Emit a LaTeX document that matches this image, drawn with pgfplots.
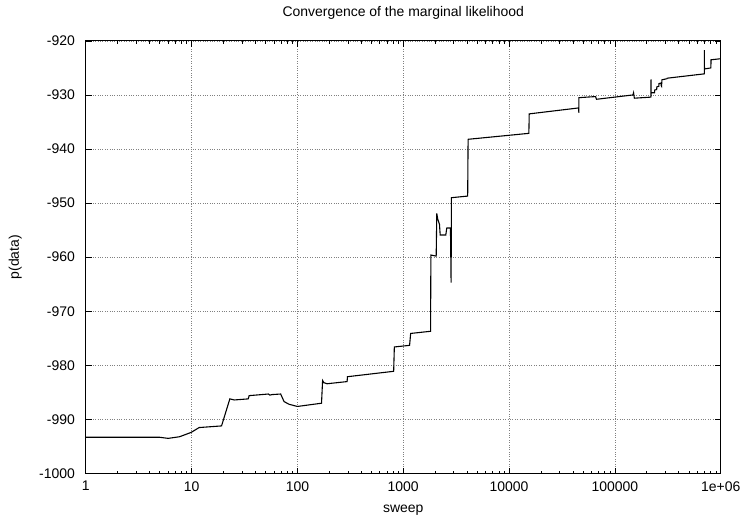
\documentclass[border=0pt]{standalone}
\usepackage{pgfplots}
\pgfplotsset{compat=1.18}
\usepackage{fontspec}
\setmainfont{Liberation Sans}
\begin{document}
\fontsize{14bp}{16bp}\selectfont
\begin{tikzpicture}
\begin{axis}[
  at={(0,0)}, anchor=south west,
  scale only axis, width=637bp, height=434bp,
  xmode=log, xmin=1, xmax=1e6,
  ymin=-1000, ymax=-920,
  xtick={1,10,100,1000,10000,100000,1000000},
  xticklabels={1,10,100,1000,10000,100000,1e+06},
  ytick={-1000,-990,-980,-970,-960,-950,-940,-930,-920},
  yticklabels={-1000,-990,-980,-970,-960,-950,-940,-930,-920},
  /pgf/number format/assume math mode=true,
  tick align=inside,
  major tick length=6bp, minor tick length=3bp,
  every tick/.style={black, line width=0.6bp},
  axis line style={line width=1.2bp},
  grid=major,
  major grid style={dotted, gray, line width=0.6bp},
  minor x tick num=0,
  xlabel={sweep}, ylabel={p(data)},
  title={Convergence of the marginal likelihood},
  title style={at={(0.5,1)}, anchor=south, yshift=11bp, font=\fontsize{14bp}{16bp}\selectfont},
  xticklabel style={yshift=-3bp},
  yticklabel style={xshift=-6bp},
  xlabel style={yshift=-4bp},
  ylabel style={yshift=8bp},
  tick label style={font=\fontsize{14bp}{16bp}\selectfont},
  label style={font=\fontsize{14bp}{16bp}\selectfont},
]
\addplot[black, line width=1.1bp, line join=miter] coordinates {
(1,-993.3) (5,-993.3) (6,-993.5) (7.7,-993.2) (9.9,-992.4) (11.8,-991.5)
(19.2,-991.2) (23,-986.2) (25.3,-986.4) (34.3,-986.2) (35,-985.6)
(53.2,-985.3) (54.8,-985.5) (58,-985.4) (69.5,-985.3) (74.8,-986.7)
(83.4,-987.2) (100,-987.6) (169,-987.0) (173,-982.8) (178,-983.2)
(191,-983.4) (295,-983.0) (297,-982.1) (812,-981.1) (824,-976.6)
(1148,-976.3) (1175,-974.1) (1812,-973.7) (1825,-959.6) (2048,-959.8)
(2075,-951.9) (2120,-953.0) (2200,-953.9) (2234,-955.9) (2523,-955.9)
(2580,-954.6) (2793,-954.6) (2833,-964.7) (2853,-949.0) (4063,-948.7)
(4100,-938.2) (15380,-937.1) (15500,-933.5) (45500,-932.4) (45600,-933.3)
(45700,-930.5) (65600,-930.3) (67000,-930.8) (148000,-930.0) (150000,-929.6)
(152700,-930.6) (219000,-930.4) (219500,-927.1) (220000,-929.6)
(236500,-929.6) (237500,-929.1) (248000,-929.0) (249000,-928.5) (260000,-928.4)
(261000,-927.9) (272000,-927.8) (274000,-928.3) (276000,-928.4)
(278000,-927.2) (310000,-927.0) (312000,-926.9) (699600,-926.1)
(700500,-921.7) (701500,-925.2) (807000,-925.0) (809000,-923.5) (1000000,-923.3)
};
\end{axis}
\path[use as bounding box] (-86bp,-44bp) rectangle (659bp,475bp);
\end{tikzpicture}
\end{document}
